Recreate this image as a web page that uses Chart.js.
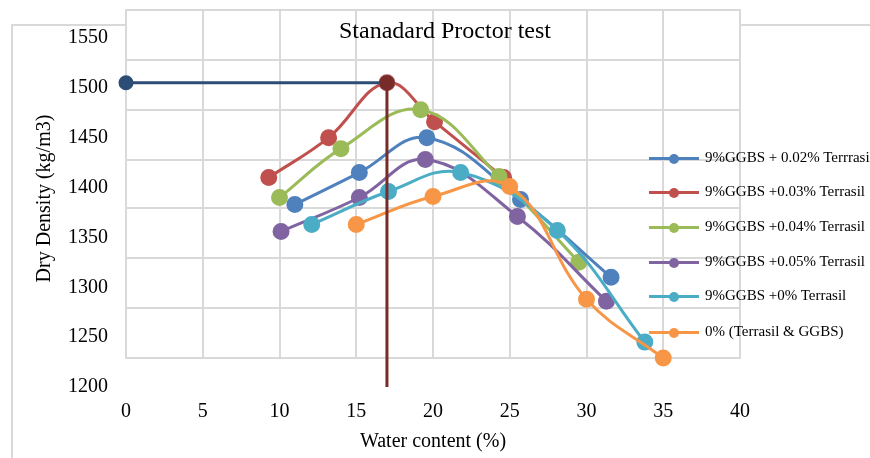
<!DOCTYPE html>
<html>
<head>
<meta charset="utf-8">
<script src="https://cdn.jsdelivr.net/npm/chart.js@4"></script>
<style>
  body { margin: 0; background: #fff; overflow: hidden; }
  #wrap { position: relative; width: 870px; height: 458px; }
  #frame { position: absolute; left: 11px; top: 24px; width: 1000px; height: 600px; border: 2px solid #d9d9d9; }
  #myChart { position: absolute; left: 0; top: 0; }
  #title { position: absolute; left: 0; width: 890px; top: 17px; text-align: center;
           font: 24px 'Liberation Serif', serif; color: #000; }
  #legend { position: absolute; left: 649px; top: 0; font: 15px 'Liberation Serif', serif; color: #000; }
  .row { position: absolute; left: 0; height: 20px; white-space: nowrap; }
  .mk { position: absolute; left: 0; top: 8px; width: 50px; height: 3px; }
  .dot { position: absolute; left: 20px; top: 5px; width: 10px; height: 10px; border-radius: 50%; }
  .txt { position: absolute; left: 56px; top: 0px; }
</style>
</head>
<body>
<div id="wrap">
  <div id="frame"></div>
  <canvas id="myChart" width="870" height="458"></canvas>
  <div id="title">Stanadard Proctor test</div>
  <div id="legend"></div>
</div>
<script>
// series labels
const seriesNames = [
    '9%GGBS + 0.02% Terrrasil',
    '9%GGBS +0.03% Terrasil',
    '9%GGBS +0.04% Terrasil',
    '9%GGBS +0.05% Terrasil',
    '9%GGBS +0% Terrasil',
    '0% (Terrasil & GGBS)'
];
const seriesColors = ['#4f81bd', '#c0504d', '#9bbb59', '#8064a2', '#4bacc6', '#f79646'];

// water content (%) and dry density (kg/m3)
const water002 = [11.0, 15.2, 19.6, 25.7, 31.6];
const density002 = [1383, 1415, 1450, 1388, 1310];
const water003 = [9.3, 13.2, 17.0, 20.1, 24.6];
const density003 = [1410, 1450, 1505, 1466, 1410];
const water004 = [10.0, 14.0, 19.2, 24.3, 29.5];
const density004 = [1390, 1439, 1478, 1411, 1325];
const water005 = [10.1, 15.2, 19.5, 25.5, 31.3];
const density005 = [1356, 1390, 1428, 1371, 1286];
const water000 = [12.1, 17.1, 21.8, 28.1, 33.8];
const density000 = [1363, 1396, 1415, 1357, 1245];
const waterPlain = [15.0, 20.0, 25.0, 30.0, 35.0];
const densityPlain = [1363, 1391, 1401, 1288, 1229];

// optimum moisture content / max dry density guide lines
const omcLineX = [0, 17];
const omcLineY = [1505, 1505];
const omcDropX = [17, 17];
const omcDropY = [1505, 1200];

// axis ticks and gridlines
const xTicks = [0, 5, 10, 15, 20, 25, 30, 35, 40];
const yTicks = [1200, 1250, 1300, 1350, 1400, 1450, 1500, 1550];
const yGridValues = [1578, 1528, 1478, 1428, 1379, 1329, 1279, 1229];

const allWater = [water002, water003, water004, water005, water000, waterPlain];
const allDensity = [density002, density003, density004, density005, density000, densityPlain];

function toPoints(xs, ys) {
    return xs.map((v, i) => ({ x: v, y: ys[i] }));
}

const datasets = [];
datasets.push({
    label: 'MDD',
    data: toPoints(omcLineX, omcLineY),
    borderColor: '#2c4d75',
    backgroundColor: ['#2c4d75', '#772c2a'],
    borderWidth: 3,
    pointRadius: 6,
    pointHoverRadius: 6,
    tension: 0,
    clip: false,
    order: 1
});
datasets.push({
    label: 'OMC',
    data: toPoints(omcDropX, omcDropY),
    borderColor: '#772c2a',
    backgroundColor: '#772c2a',
    borderWidth: 3,
    pointRadius: [6, 0],
    tension: 0,
    clip: false,
    order: 0
});
seriesNames.forEach((name, i) => {
    datasets.push({
        label: name,
        data: toPoints(allWater[i], allDensity[i]),
        borderColor: seriesColors[i],
        backgroundColor: seriesColors[i],
        borderWidth: 3,
        pointRadius: 7,
        pointHoverRadius: 7,
        tension: 0.4,
        clip: false,
        order: 10 - i
    });
});

//grid like the excel plot area
const gridPlugin = {
    id: 'excelGrid',
    beforeDraw(chart) {
        const { ctx, scales: { x, y } } = chart;
        const left = x.getPixelForValue(xTicks[0]);
        const right = x.getPixelForValue(xTicks[xTicks.length - 1]);
        const top = y.getPixelForValue(yGridValues[0]);
        const bottom = y.getPixelForValue(yGridValues[yGridValues.length - 1]);
        ctx.save();
        ctx.fillStyle = '#fff';
        ctx.fillRect(left, top, right - left, bottom - top);
        ctx.strokeStyle = '#d9d9d9';
        ctx.lineWidth = 2;
        ctx.beginPath();
        xTicks.forEach(v => {
            const px = Math.round(x.getPixelForValue(v));
            ctx.moveTo(px, top - 1);
            ctx.lineTo(px, bottom + 1);
        });
        yGridValues.forEach(v => {
            const py = Math.round(y.getPixelForValue(v));
            ctx.moveTo(left, py);
            ctx.lineTo(right, py);
        });
        ctx.stroke();
        ctx.restore();
    }
};

const serif = "'Liberation Serif', 'Times New Roman', serif";
const ctx = document.querySelector('#myChart').getContext('2d');
const myChart = new Chart(ctx, {
    type: 'line',
    data: { datasets: datasets },
    options: {
        responsive: false,
        animation: false,
        layout: { padding: { left: 0, right: 130, top: 8, bottom: 0 } },
        plugins: {
            legend: { display: false },
            tooltip: { enabled: false }
        },
        scales: {
            x: {
                type: 'linear',
                min: 0,
                max: 40,
                border: { display: false },
                grid: { display: false, drawTicks: false },
                afterBuildTicks: s => { s.ticks = xTicks.map(v => ({ value: v })); },
                afterFit: s => { s.height = 71; s.paddingLeft = 0; s.paddingRight = 0; },
                ticks: { color: '#000', font: { family: serif, size: 20 }, padding: 13, callback: v => String(v) },
                title: {
                    display: true,
                    text: 'Water content (%)',
                    color: '#000',
                    font: { family: serif, size: 20 },
                    padding: { top: 0, bottom: 4 }
                }
            },
            y: {
                type: 'linear',
                min: 1200,
                max: 1578,
                border: { display: false },
                grid: { display: false, drawTicks: false },
                afterBuildTicks: s => { s.ticks = yTicks.map(v => ({ value: v })); },
                afterFit: s => { s.width = 126; s.paddingTop = 0; s.paddingBottom = 0; },
                ticks: { color: '#000', font: { family: serif, size: 20 }, padding: 18, callback: v => String(v) },
                title: {
                    display: true,
                    text: 'Dry Density (kg/m3)',
                    color: '#000',
                    font: { family: serif, size: 20 },
                    padding: { top: 33, bottom: 0 }
                }
            }
        }
    },
    plugins: [gridPlugin]
});

// legend drawn as html rows
const legendTops = [159, 193, 228, 263, 297, 333];
const legendBox = document.querySelector('#legend');
seriesNames.forEach((name, i) => {
    const row = document.createElement('div');
    row.className = 'row';
    row.style.top = (legendTops[i] - 10) + 'px';
    row.innerHTML = '<div class="mk" style="background:' + seriesColors[i] + '"></div>' +
        '<div class="dot" style="background:' + seriesColors[i] + '"></div>' +
        '<div class="txt"></div>';
    row.querySelector('.txt').textContent = name;
    legendBox.appendChild(row);
});
</script>
</body>
</html>
